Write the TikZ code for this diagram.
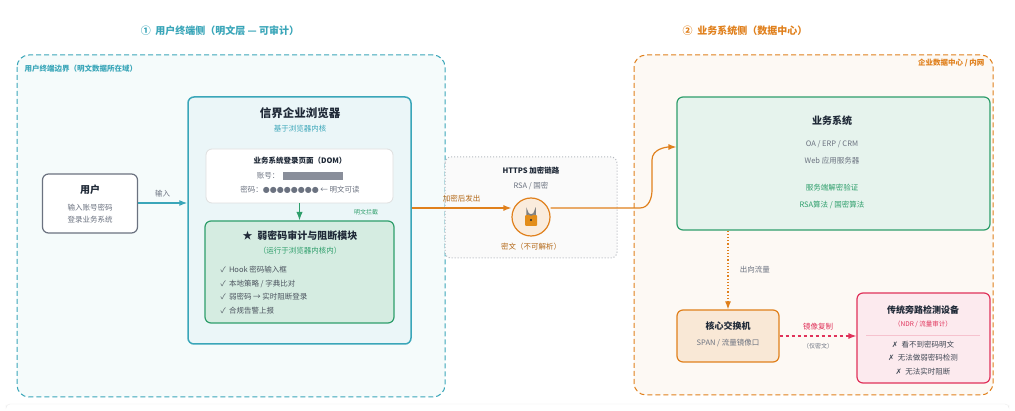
\documentclass[tikz,border=0pt]{standalone}
\usepackage{fontspec}
\setmainfont{Noto Sans CJK SC}
\newfontfamily\symfont{DejaVu Sans}
\usetikzlibrary{arrows.meta,positioning,calc}
\definecolor{teal1}{HTML}{3AA6B9}
\definecolor{green1}{HTML}{2E9E6B}
\definecolor{orange1}{HTML}{E0801C}
\definecolor{pink1}{HTML}{E0325A}
\definecolor{grey1}{HTML}{6B7280}
\definecolor{ink}{HTML}{1F2937}
\tikzset{>=Latex,
  box/.style = {draw, rounded corners = 6pt, line width = 1.2pt, inner sep = 0pt},
  ttl/.style = {font = \bfseries\fontsize{10}{12}\selectfont, text = ink},
  sub/.style = {font = \fontsize{7.5}{9}\selectfont},
  zone/.style = {draw, dashed, rounded corners = 12pt, line width = 1pt, dash pattern = on 5pt off 3pt}}

\begin{document}
\begin{tikzpicture}[x = 1pt, y = -1pt]
\useasboundingbox (0,0) rectangle (1015,411);
\fill[white] (0,0) rectangle (1015,411);
\draw[gray!15, rounded corners = 4pt] (6,405) -- (6,404) -- (1009,404) -- (1009,405);

% titles
\node[ttl, text = teal1] (t1) at (220,31) {①\ \ 用户终端侧（明文层 — 可审计）};
\node[ttl, text = orange1] (t2) at (745,31) {②\ \ 业务系统侧（数据中心）};

% zones
\draw[zone, teal1, fill = teal1!5] (17,55) rectangle (445,397);
\node[text = teal1, font = \bfseries\fontsize{7.5}{9}\selectfont, anchor = west] at (21,69) {用户终端边界（明文数据所在域）};
\draw[zone, orange1, fill = orange1!5] (634,55) rectangle (993,395);
\node[text = orange1, font = \bfseries\fontsize{7.5}{9}\selectfont, anchor = east] at (988,63) {企业数据中心 / 内网};

% https link
\draw[grey1!50, dotted, line width = 1pt, rounded corners = 6pt, fill = gray!4] (445,157) rectangle (617,258);
\node[text = ink, font = \bfseries\fontsize{7.5}{9}\selectfont] at (531,171) {HTTPS 加密链路};
\node[sub, text = grey1] at (531,186) {RSA / 国密};
\node[circle, draw = orange1, line width = 1.2pt, fill = orange1!15, minimum size = 38pt] (lock) at (531,217) {};
\fill[orange1!90!yellow, rounded corners = 1pt] (525,215) rectangle (537,226);
\draw[gray, line width = 1.5pt] (527,215) -- (527,211) arc (180:0:4) -- (535,215);
\fill[ink] (531,220) circle (1.2);
\node[sub, text = orange1!80!black] at (531,247) {密文（不可解析）};

% user
\node[box, draw = grey1, fill = white, minimum width = 95pt, minimum height = 59pt] (user) at (90,203.5) {};
\node[ttl] at (90,190) {用户};
\node[sub, text = grey1] at (90,208) {输入账号密码};
\node[sub, text = grey1] at (90,220) {登录业务系统};

% browser
\node[box, draw = teal1, fill = teal1!10, line width = 1.5pt, minimum width = 223pt, minimum height = 247pt] (browser) at (299.5,220.5) {};
\node[ttl, font = \bfseries\fontsize{11.5}{13}\selectfont] at (300,113) {信界企业浏览器};
\node[sub, text = teal1] at (300,129) {基于浏览器内核};

\node[box, draw = gray!25, line width = 0.8pt, fill = white, minimum width = 187pt, minimum height = 54pt] (dom) at (299.5,176) {};
\node[text = ink, font = \bfseries\fontsize{7.5}{9}\selectfont] at (300,161) {业务系统登录页面（DOM）};
\node[sub, text = grey1, anchor = east] (acc) at (283,176) {账号：};
\fill[grey1!80] (acc.east) ++(0,-4) rectangle ++(60,8);
\node[sub, text = grey1] at (300,190) {密码：{\symfont\fontsize{8}{9}\selectfont ●●●●●●●●} ← 明文可读};

\node[box, draw = green1, fill = green1!20, minimum width = 189pt, minimum height = 102pt] (mod) at (299.5,272) {};
\node[ttl] at (300,236) {★\ \ 弱密码审计与阻断模块};
\node[sub, text = green1] at (300,251) {（运行于浏览器内核内）};
\foreach \t [count = \i] in {Hook 密码输入框, 本地策略 / 字典比对, 弱密码 → 实时阻断登录, 合规告警上报}
  \node[sub, text = ink!80, anchor = west] at (217,256.5 + 13.5*\i) {✓\ \ \t};

\draw[->, green1, line width = 1.2pt] (dom.south) -- (mod.north);
\node[text = green1, font = \fontsize{6}{7}\selectfont] at (366,212) {明文拦截};

% business system
\node[box, draw = green1, fill = green1!12, minimum width = 313pt, minimum height = 133pt] (biz) at (833.5,163.5) {};
\node[ttl] at (832,121) {业务系统};
\node[sub, text = grey1] at (832,144) {OA / ERP / CRM};
\node[sub, text = grey1] at (832,161) {Web 应用服务器};
\node[sub, text = green1] at (832,188) {服务端解密验证};
\node[sub, text = green1] at (832,205) {RSA算法 / 国密算法};

% switch
\node[box, draw = orange1, fill = orange1!18, minimum width = 102pt, minimum height = 52pt] (sw) at (728,336) {};
\node[ttl, font = \bfseries\fontsize{9}{10}\selectfont] at (728,326) {核心交换机};
\node[sub, text = grey1] at (728,343) {SPAN / 流量镜像口};

% ndr
\node[box, draw = pink1, fill = pink1!10, minimum width = 133pt, minimum height = 90pt] (ndr) at (923.5,338) {};
\node[ttl, font = \bfseries\fontsize{9}{10}\selectfont] at (923,310) {传统旁路检测设备};
\node[text = pink1, font = \fontsize{6.5}{7}\selectfont] at (923,324) {（NDR / 流量审计）};
\draw[pink1!30] (866,335) -- (980,335);
\node[sub, text = ink!85] at (923,345) {{\symfont ✗}\ \ 看不到密码明文};
\node[sub, text = ink!85] at (923,358) {{\symfont ✗}\ \ 无法做弱密码检测};
\node[sub, text = ink!85] at (923,372) {{\symfont ✗}\ \ 无法实时阻断};

% connectors
\draw[teal1, line width = 1.2pt, -{Latex[length = 8pt, width = 6pt]}] (user.east |- 0,203) -- (browser.west |- 0,203) node[midway, above = 2pt, sub, text = grey1] {输入};
\draw[orange1, line width = 1.2pt, -{Latex[length = 8pt, width = 6pt]}] (browser.east |- 0,208) -- (lock.west |- 0,208) node[midway, above = 2pt, sub, text = orange1!80!black] {加密后发出};
\draw[orange1, line width = 1.2pt, -{Latex[length = 8pt, width = 6pt]}] (lock.east |- 0,208) -- (640,208) to[out = 0, in = 270] (652,190) -- (652,160) to[out = 90, in = 180] (biz.west |- 0,147);
\draw[orange1, line width = 1.2pt, dotted, -{Latex[length = 8pt, width = 6pt]}] (biz.south -| sw) -- (sw.north) node[midway, right = 8pt, sub, text = grey1] {出向流量};
\draw[pink1, line width = 1.2pt, dashed, -{Latex[length = 8pt, width = 6pt]}] (sw.east) -- (ndr.west |- sw) node[midway, above = 2pt, sub, text = pink1] {镜像复制} node[midway, below = 3pt, text = grey1, font = \fontsize{6}{7}\selectfont] {（仅密文）};
\end{tikzpicture}
\end{document}
